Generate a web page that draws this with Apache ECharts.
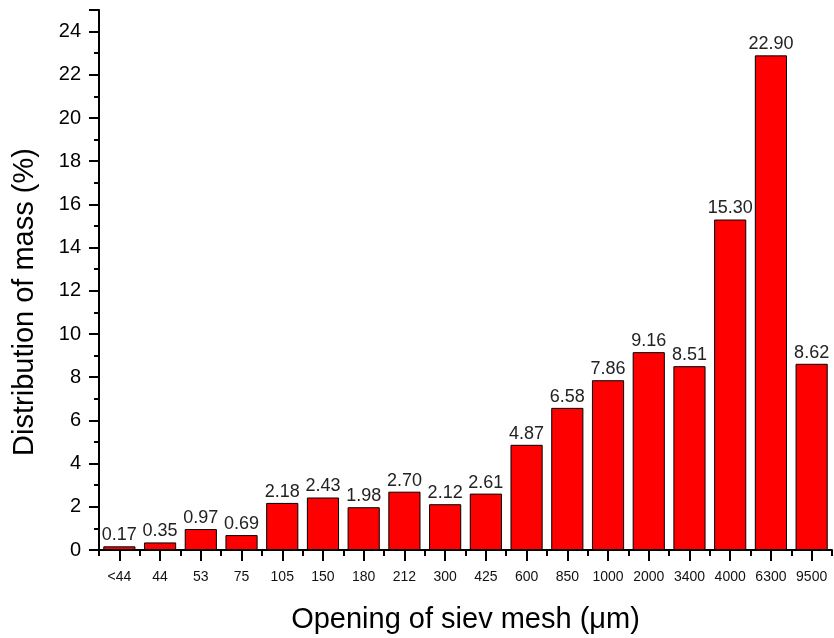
<!DOCTYPE html>
<html><head><meta charset="utf-8">
<script src="https://cdn.jsdelivr.net/npm/echarts@6/dist/echarts.min.js"></script>
<style>html,body{margin:0;padding:0;background:#fff}#c{width:834px;height:638px}</style>
</head><body><div id="c"></div>
<script>
const categories = ['<44','44','53','75','105','150','180','212','300','425','600','850','1000','2000','3400','4000','6300','9500'];
const values = [0.17,0.35,0.97,0.69,2.18,2.43,1.98,2.70,2.12,2.61,4.87,6.58,7.86,9.16,8.51,15.30,22.90,8.62];
const font = 'Liberation Sans, Arial, sans-serif';
const chart = echarts.init(document.getElementById('c'));
chart.setOption({
  animation:false,
  grid:{left:99,right:2,top:10,bottom:88,outerBoundsMode:'none',containLabel:false},
  xAxis:[{
    type:'category', data:categories,
    axisLine:{lineStyle:{color:'#000',width:2}},
    axisTick:{show:true,length:6,lineStyle:{color:'#000',width:2}},
    axisLabel:{color:'#111',fontSize:14,fontFamily:font,margin:20,interval:0},
    name:'Opening of siev mesh (\u03bcm)', nameLocation:'middle', nameGap:55,
    nameTextStyle:{color:'#000',fontSize:29,fontFamily:font}
  },{
    type:'category', data:categories, position:'bottom',
    axisLine:{show:false},
    axisTick:{show:true,alignWithLabel:true,length:11,lineStyle:{color:'#000',width:2}},
    axisLabel:{show:false}
  }],
  yAxis:{
    type:'value', min:0, max:25, interval:2,
    axisLine:{show:true,lineStyle:{color:'#000',width:2}},
    axisTick:{show:true,length:10,lineStyle:{color:'#000',width:2}},
    minorTick:{show:true,splitNumber:2,length:5,lineStyle:{color:'#000',width:2}},
    splitLine:{show:false},
    axisLabel:{color:'#000',fontSize:20,fontFamily:font,margin:18,showMaxLabel:false},
    name:'Distribution of mass (%)', nameLocation:'middle', nameGap:60,
    nameTextStyle:{color:'#000',fontSize:29,fontFamily:font,padding:[0,44,0,0]}
  },
  series:[{
    type:'bar', data:values, barCategoryGap:'21%',
    itemStyle:{color:'#ff0000',borderColor:'#000',borderWidth:1},
    label:{show:true,position:'top',distance:2,color:'#222',fontSize:18,fontFamily:font,
      formatter:p=>p.value.toFixed(2)}
  }]
});
</script></body></html>
